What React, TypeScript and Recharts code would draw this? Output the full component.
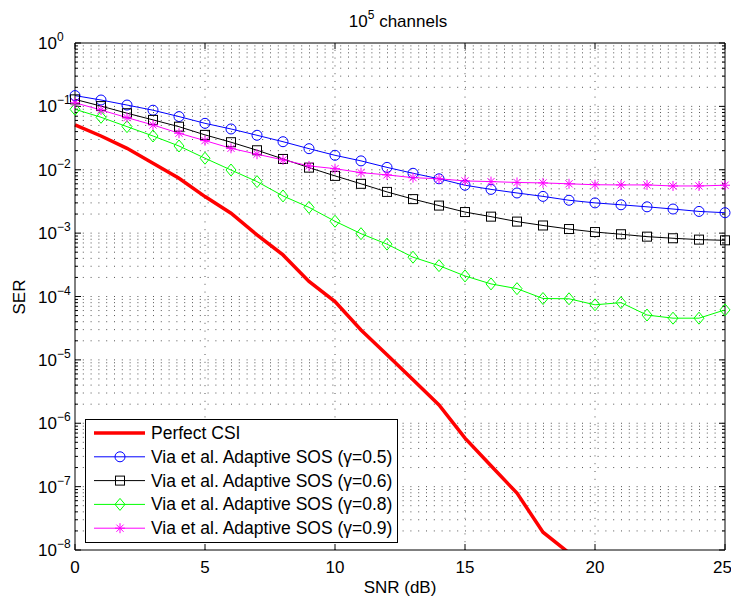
import React from 'react';
import { LineChart, Line, XAxis, YAxis, ReferenceLine, Legend, Customized } from 'recharts';

const FONT = '"Liberation Sans", Arial, Helvetica, sans-serif';

// SNR in dB, one point per dB
const snr = [0, 1, 2, 3, 4, 5, 6, 7, 8, 9, 10, 11, 12, 13, 14, 15, 16, 17, 18, 19, 20, 21, 22, 23, 24, 25];

// SER
const perfectCsi = [
  0.0509, 0.0341, 0.0218, 0.0127, 0.00734, 0.00377, 0.00206, 9.37e-4, 4.53e-4, 1.73e-4,
  8.31e-5, 2.97e-5, 1.2e-5, 4.84e-6, 1.95e-6, 5.82e-7, 2.13e-7, 7.89e-8, 1.91e-8, 9.0e-9,
];
const sosGamma05 = [
  0.148, 0.126, 0.105, 0.087, 0.069, 0.054, 0.044, 0.035, 0.0277, 0.0215, 0.0169, 0.0138, 0.0109,
  0.0088, 0.0072, 0.0057, 0.0049, 0.0043, 0.0038, 0.0033, 0.003, 0.0028, 0.0026, 0.0024, 0.0022, 0.0021,
];
const sosGamma06 = [
  0.129, 0.101, 0.078, 0.0612, 0.0478, 0.0355, 0.0272, 0.0203, 0.0148, 0.0108, 0.008, 0.006, 0.00447,
  0.00344, 0.00272, 0.00215, 0.00182, 0.00152, 0.00132, 0.00116, 0.00104, 0.00096, 0.00088, 0.00083, 0.00079, 0.00077,
];
const sosGamma08 = [
  0.09, 0.0673, 0.0479, 0.0341, 0.0237, 0.0152, 0.0099, 0.0065, 0.00386, 0.00255, 0.00154, 0.00098, 0.00067,
  4.17e-4, 3.07e-4, 2.11e-4, 1.58e-4, 1.33e-4, 9.3e-5, 9.2e-5, 7.4e-5, 8.0e-5, 5.1e-5, 4.55e-5, 4.55e-5, 6.15e-5,
];
const sosGamma09 = [
  0.114, 0.0877, 0.0664, 0.0509, 0.0377, 0.0288, 0.0218, 0.0176, 0.0143, 0.0115, 0.0104, 0.009, 0.0083,
  0.0075, 0.0072, 0.00666, 0.0065, 0.0063, 0.0062, 0.006, 0.0058, 0.00576, 0.00576, 0.00555, 0.00555, 0.0057,
];

const xTicks = [0, 5, 10, 15, 20, 25];
const yTicks = [1e-8, 1e-7, 1e-6, 1e-5, 1e-4, 1e-3, 1e-2, 1e-1, 1];
const minorSteps = [2, 3, 4, 5, 6, 7, 8, 9];

const data = snr.map((s, i) => ({
  snr: s,
  perfect: i < perfectCsi.length ? perfectCsi[i] : null,
  g05: sosGamma05[i],
  g06: sosGamma06[i],
  g08: sosGamma08[i],
  g09: sosGamma09[i],
}));

const minorValues: number[] = [];
yTicks.slice(0, -1).forEach((d) => minorSteps.forEach((m) => minorValues.push(d * m)));

// pixel -> data unit helpers for the little inward tick marks
const PX_X = 25 / 650;
const PX_DEC = 8 / 507;

const Circle = ({ cx, cy, color }: any) => <circle cx={cx} cy={cy} r={5} fill="none" stroke={color} strokeWidth={1} />;
const Square = ({ cx, cy, color }: any) => (
  <rect x={cx - 4.5} y={cy - 4.5} width={9} height={9} fill="none" stroke={color} strokeWidth={1} />
);
const Diamond = ({ cx, cy, color }: any) => (
  <polygon points={`${cx},${cy - 6} ${cx + 5},${cy} ${cx},${cy + 6} ${cx - 5},${cy}`} fill="none" stroke={color} strokeWidth={1} />
);
const Star = ({ cx, cy, color }: any) => (
  <g stroke={color} strokeWidth={1}>
    <line x1={cx - 5} y1={cy} x2={cx + 5} y2={cy} />
    <line x1={cx} y1={cy - 5} x2={cx} y2={cy + 5} />
    <line x1={cx - 3.6} y1={cy - 3.6} x2={cx + 3.6} y2={cy + 3.6} />
    <line x1={cx - 3.6} y1={cy + 3.6} x2={cx + 3.6} y2={cy - 3.6} />
  </g>
);

const series = [
  { key: 'perfect', name: 'Perfect CSI', color: '#ff0000', width: 3.5, Marker: null as any },
  { key: 'g05', name: 'Via et al. Adaptive SOS (γ=0.5)', color: '#0000ff', width: 1, Marker: Circle },
  { key: 'g06', name: 'Via et al. Adaptive SOS (γ=0.6)', color: '#000000', width: 1, Marker: Square },
  { key: 'g08', name: 'Via et al. Adaptive SOS (γ=0.8)', color: '#00ff00', width: 1, Marker: Diamond },
  { key: 'g09', name: 'Via et al. Adaptive SOS (γ=0.9)', color: '#ff00ff', width: 1, Marker: Star },
];

const LogTick = ({ y, payload }: any) => {
  const exp = Math.round(Math.log10(payload.value));
  return (
    <text x={38} y={y + 6} fontSize={17} fontFamily={FONT} fill="#000">
      10
      <tspan dy={-8} fontSize={12}>{exp === 0 ? '0' : `\u2212${-exp}`}</tspan>
    </text>
  );
};

const renderLegend = () => (
  <div style={{ width: 313, height: 124, border: '1px solid #000', background: '#fff', boxSizing: 'border-box' }}>
    <svg width={311} height={122}>
      {series.map((s, i) => {
        const cy = 13 + i * 23.8;
        const M = s.Marker;
        return (
          <g key={s.key}>
            <line x1={8} y1={cy} x2={59} y2={cy} stroke={s.color} strokeWidth={s.width} />
            {M && <M cx={34} cy={cy} color={s.color} />}
            <text x={65} y={cy + 6} fontSize={17.5} fontFamily={FONT} fill="#000">{s.name}</text>
          </g>
        );
      })}
    </svg>
  </div>
);

const Titles = () => (
  <g>
    <text x={398} y={27} textAnchor="middle" fontSize={17} fontFamily={FONT} fill="#000">
      10<tspan dy={-8} fontSize={12}>5</tspan><tspan dy={8}> channels</tspan>
    </text>
    <text x={25} y={297} textAnchor="middle" transform="rotate(-90 25 297)" fontSize={17} fontFamily={FONT} fill="#000">
      SER
    </text>
  </g>
);

const dotted = { stroke: '#555', strokeWidth: 1, strokeDasharray: '1 6.8' };

export default function App() {
  const ax = 'log';
  return (
    <div style={{ position: 'absolute', left: 0, top: 0, background: '#fff' }}>
      <LineChart width={731} height={598} data={data} margin={{ top: 43, right: 6, bottom: 18, left: 15 }}>
        <XAxis
          dataKey="snr"
          type="number"
          domain={[0, 25]}
          ticks={xTicks}
          tickLine={false}
          axisLine={{ stroke: '#000' }}
          height={30}
          tickMargin={5}
          tick={{ fontSize: 17, fill: '#000', fontFamily: FONT }}
          label={{ value: 'SNR (dB)', position: 'bottom', offset: 1, fontSize: 17, fill: '#000', fontFamily: FONT }}
        />
        <YAxis
          yAxisId={ax}
          scale="log"
          domain={[1e-8, 1]}
          allowDataOverflow
          ticks={yTicks}
          width={60}
          tickLine={false}
          axisLine={{ stroke: '#000' }}
          tick={<LogTick />}
        />
        <YAxis yAxisId="free" orientation="right" width={0} scale="log" domain={[1e-8, 1]} hide />

        {xTicks.slice(1, -1).map((v) => (
          <ReferenceLine key={`gx${v}`} yAxisId={ax} x={v} {...dotted} />
        ))}
        {yTicks.slice(1, -1).concat(minorValues).map((v) => (
          <ReferenceLine key={`gy${v}`} yAxisId={ax} y={v} {...dotted} />
        ))}

        <ReferenceLine yAxisId={ax} y={1} stroke="#000" />
        <ReferenceLine yAxisId={ax} x={25} stroke="#000" />

        {xTicks.map((v) => (
          <ReferenceLine key={`tb${v}`} yAxisId={ax} stroke="#000"
            segment={[{ x: v, y: 1e-8 }, { x: v, y: 1e-8 * Math.pow(10, 6 * PX_DEC) }]} />
        ))}
        {xTicks.map((v) => (
          <ReferenceLine key={`tt${v}`} yAxisId={ax} stroke="#000"
            segment={[{ x: v, y: 1 }, { x: v, y: Math.pow(10, -6 * PX_DEC) }]} />
        ))}
        {yTicks.map((v) => (
          <ReferenceLine key={`tl${v}`} yAxisId={ax} stroke="#000" segment={[{ x: 0, y: v }, { x: 6 * PX_X, y: v }]} />
        ))}
        {yTicks.map((v) => (
          <ReferenceLine key={`tr${v}`} yAxisId={ax} stroke="#000" segment={[{ x: 25, y: v }, { x: 25 - 6 * PX_X, y: v }]} />
        ))}
        {minorValues.map((v) => (
          <ReferenceLine key={`ml${v}`} yAxisId={ax} stroke="#000" segment={[{ x: 0, y: v }, { x: 3 * PX_X, y: v }]} />
        ))}
        {minorValues.map((v) => (
          <ReferenceLine key={`mr${v}`} yAxisId={ax} stroke="#000" segment={[{ x: 25, y: v }, { x: 25 - 3 * PX_X, y: v }]} />
        ))}

        <Line
          yAxisId={ax}
          dataKey="perfect"
          stroke="#ff0000"
          strokeWidth={3.5}
          dot={false}
          activeDot={false}
          isAnimationActive={false}
          type="linear"
        />
        {series.slice(1).map((s) => {
          const M = s.Marker;
          return (
            <Line
              key={s.key}
              yAxisId="free"
              dataKey={s.key}
              stroke={s.color}
              strokeWidth={s.width}
              dot={(p: any) => <M key={`${s.key}-${p.index}`} cx={p.cx} cy={p.cy} color={s.color} />}
              activeDot={false}
              isAnimationActive={false}
              type="linear"
            />
          );
        })}

        <Legend
          layout="vertical"
          align="center"
          verticalAlign="middle"
          wrapperStyle={{ left: 85, top: 419, width: 313, height: 124 }}
          content={renderLegend}
        />
        <Customized component={Titles} />
      </LineChart>
    </div>
  );
}
